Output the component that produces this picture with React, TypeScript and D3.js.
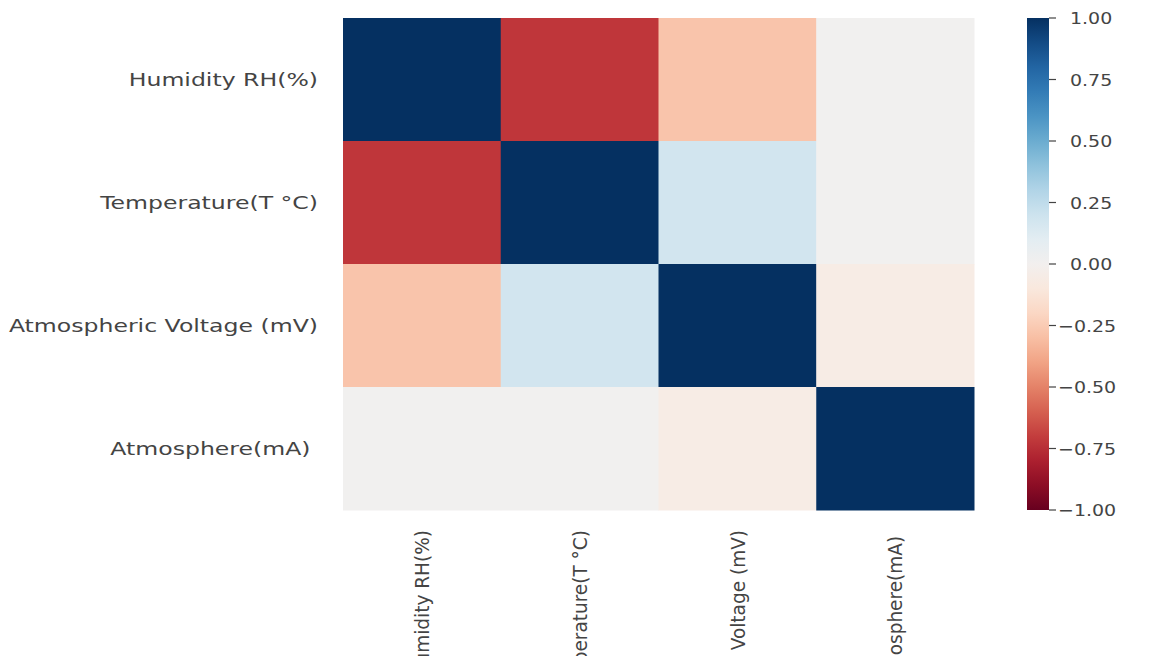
import * as d3 from 'd3'
import { useEffect, useRef } from 'react'

const labels = ['Humidity RH(%)', 'Temperature(T °C)', 'Atmospheric Voltage (mV)', 'Atmosphere(mA) ']

// correlation matrix, row by row
const rowHumidity = [1, -0.72, -0.28, 0.01]
const rowTemperature = [-0.72, 1, 0.18, 0.01]
const rowVoltage = [-0.28, 0.18, 1, -0.06]
const rowAtmosphere = [0.01, 0.01, -0.06, 1]

const colorbarTicks = [-1, -0.75, -0.5, -0.25, 0, 0.25, 0.5, 0.75, 1]

const W = 1155
const H = 656

export default function App(){
  const svgRef = useRef<SVGSVGElement|null>(null)

  useEffect(()=>{
    const svg = d3.select(svgRef.current)
    svg.selectAll('*').remove()

    const matrix = [rowHumidity, rowTemperature, rowVoltage, rowAtmosphere]
    const cells = matrix.flatMap((row, i)=> row.map((v, j)=> ({ row: labels[i], col: labels[j], v })))

    const x = d3.scaleBand<string>().domain(labels).range([343, 974])
    const y = d3.scaleBand<string>().domain(labels).range([18, 510])
    const color = (v: number)=> d3.interpolateRdBu((v + 1) / 2)

    const textColor = '#444'
    const font = 'DejaVu Sans, sans-serif'

    // heatmap cells
    svg.append('g').selectAll('rect')
      .data(cells)
      .join('rect')
      .attr('x', d=> x(d.col)!)
      .attr('y', d=> y(d.row)!)
      .attr('width', x.bandwidth() + 0.5)
      .attr('height', y.bandwidth() + 0.5)
      .attr('fill', d=> color(d.v))

    // row labels (the source image is stretched sideways)
    svg.append('g').selectAll('text')
      .data(labels)
      .join('text')
      .attr('transform', d=> `translate(318,${y(d)! + y.bandwidth()/2}) scale(1.31,1)`)
      .attr('text-anchor', 'end')
      .attr('dominant-baseline', 'central')
      .attr('font-family', font)
      .attr('font-size', 18)
      .attr('fill', textColor)
      .style('white-space', 'pre')
      .text(d=> d)

    // column labels, rotated
    svg.append('g').selectAll('text')
      .data(labels)
      .join('text')
      .attr('transform', d=> `translate(${x(d)! + x.bandwidth()/2},530) scale(1.05,1) rotate(-90)`)
      .attr('text-anchor', 'end')
      .attr('dominant-baseline', 'central')
      .attr('font-family', font)
      .attr('font-size', 18.5)
      .attr('fill', textColor)
      .style('white-space', 'pre')
      .text(d=> d)

    // colorbar
    const cbX = 1027
    const cbW = 22
    const cb = d3.scaleLinear().domain([-1, 1]).range([510, 18])
    const defs = svg.append('defs')
    const grad = defs.append('linearGradient')
      .attr('id', 'cbgrad')
      .attr('x1', 0).attr('x2', 0).attr('y1', 1).attr('y2', 0)
    d3.range(0, 1.0001, 0.05).forEach(t=>{
      grad.append('stop').attr('offset', t).attr('stop-color', d3.interpolateRdBu(t))
    })
    svg.append('rect')
      .attr('x', cbX).attr('y', cb(1))
      .attr('width', cbW).attr('height', cb(-1) - cb(1))
      .attr('fill', 'url(#cbgrad)')

    const axis = svg.append('g')
      .attr('transform', `translate(${cbX + cbW},0)`)
    axis.selectAll('line')
      .data(colorbarTicks)
      .join('line')
      .attr('x1', 0).attr('x2', 7)
      .attr('y1', d=> cb(d)).attr('y2', d=> cb(d))
      .attr('stroke', textColor)
      .attr('stroke-width', 1.2)
    axis.selectAll('text')
      .data(colorbarTicks)
      .join('text')
      .attr('transform', d=> `translate(${d < 0 ? 9 : 21},${cb(d)}) scale(1.15,1)`)
      .attr('dominant-baseline', 'central')
      .attr('font-family', font)
      .attr('font-size', 16.5)
      .attr('fill', textColor)
      .text(d=> d3.format('.2f')(d))
  }, [])

  return (
    <svg ref={svgRef} width={W} height={H} style={{ position: 'absolute', left: 0, top: 0, background: '#fff' }}></svg>
  )
}
